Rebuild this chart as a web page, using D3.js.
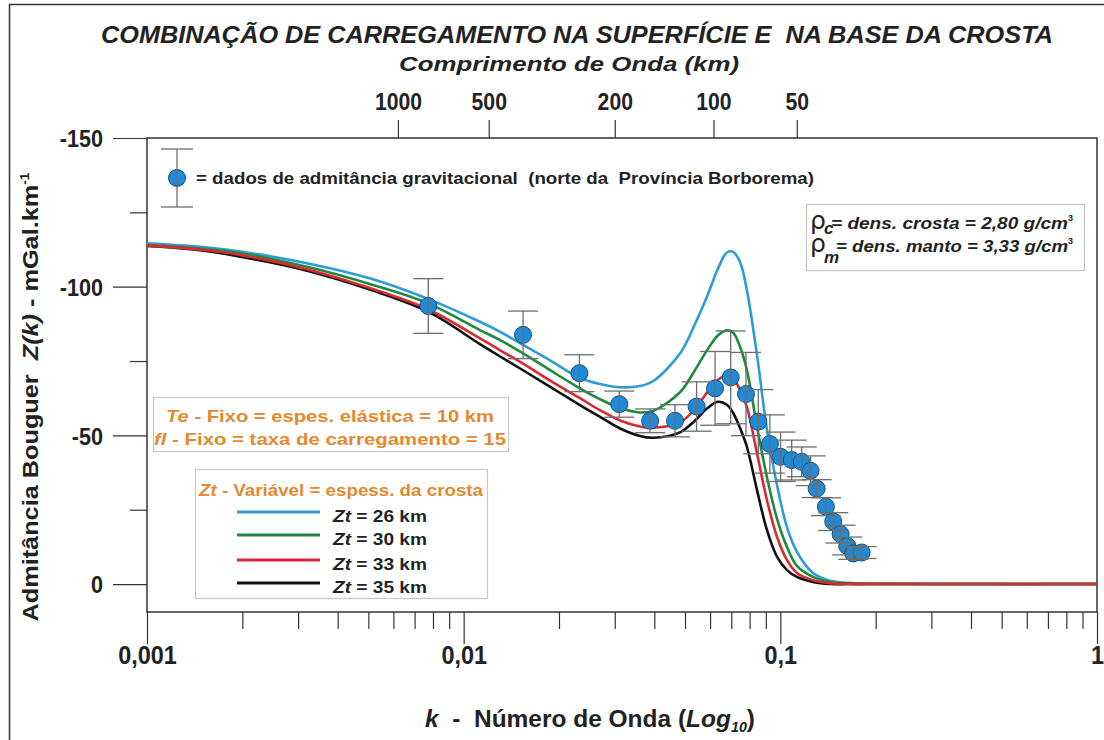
<!DOCTYPE html>
<html><head><meta charset="utf-8">
<script src="https://cdn.jsdelivr.net/npm/d3@7"></script>
<style>
html,body{margin:0;padding:0;background:#fff;}
svg text{font-family:"Liberation Sans",Arial,Helvetica,sans-serif;font-weight:bold;white-space:pre;}
</style></head><body>
<svg id="chart" width="1104" height="740"></svg>
<script>
// Wavenumber samples (k) shared by the model admittance curves
const kModel = [0.001, 0.00147, 0.00197, 0.0032, 0.00517, 0.00772, 0.01126, 0.0130, 0.0154, 0.0187,
  0.0233, 0.0269, 0.0312, 0.0360, 0.0396, 0.0482, 0.0538, 0.0586, 0.0635, 0.0678,
  0.0709, 0.0746, 0.0784, 0.0844, 0.0907, 0.0976, 0.1049, 0.1128, 0.1268, 0.1434,
  0.1623, 0.1918, 0.343, 1.0];
// Model Z(k) for each crustal thickness Zt
const zt26 = [-114.6, -113.4, -111.8, -107.9, -102.5, -95.9, -88.2, -84.9, -80.4, -75.3,
  -69.3, -67.3, -66.2, -66.6, -68.2, -77.5, -87.5, -96.5, -106.0, -111.5,
  -111.7, -108.3, -98.9, -77.0, -52.0, -33.3, -19.2, -10.8, -3.7, -1.1,
  -0.4, -0.15, 0, 0];
const zt30 = [-114.0, -112.8, -111.2, -106.7, -100.6, -94.4, -85.4, -82.1, -77.6, -72.0,
  -65.8, -62.2, -59.2, -57.7, -58.2, -64.5, -72.0, -78.5, -83.6, -85.3,
  -84.6, -79.8, -72.0, -53.0, -36.0, -22.0, -12.5, -6.1, -2.4, -0.7,
  -0.2, 0, 0, 0];
const zt33 = [-113.8, -112.5, -110.7, -105.9, -99.2, -92.4, -82.6, -78.7, -74.1, -68.5,
  -62.5, -58.5, -55.0, -53.0, -52.6, -54.3, -59.0, -64.3, -68.6, -70.3,
  -69.3, -65.3, -59.6, -44.0, -28.3, -15.9, -8.1, -3.7, -1.3, -0.3,
  0, 0, 0, 0];
const zt35 = [-113.7, -112.3, -110.1, -105.4, -98.7, -91.6, -80.7, -76.6, -71.9, -66.4,
  -60.2, -56.3, -52.3, -49.8, -49.2, -51.0, -55.0, -59.0, -61.3, -60.3,
  -57.6, -52.5, -46.2, -31.6, -18.2, -9.2, -4.7, -2.4, -0.7, 0,
  0, 0, 0, 0];

// Observed Bouguer admittance (northern Borborema Province)
const obsK = [0.00773, 0.0154, 0.0232, 0.0310, 0.0388, 0.0465, 0.0544, 0.0622, 0.0697, 0.0779,
  0.0852, 0.0927, 0.1002, 0.1086, 0.1168, 0.1246, 0.1302, 0.1393, 0.1469, 0.1550,
  0.1627, 0.1699, 0.1806];
const obsZ = [-93.5, -83.8, -70.9, -60.5, -54.9, -54.9, -59.7, -65.8, -69.5, -63.9,
  -54.6, -47.1, -42.8, -41.7, -41.1, -38.1, -32.1, -26.0, -21.0, -16.8,
  -12.8, -10.3, -10.6];
const obsErr = [9.2, 8.0, 6.2, 4.4, 4.0, 5.4, 8.3, 12.4, 15.6, 14.0,
  10.8, 9.8, 8.3, 6.7, 5.0, 5.0, 3.0, 3.0, 3.0, 3.0,
  3.0, 2.0, 2.0];

// Axis ticks
const kMajor = [0.001, 0.01, 0.1, 1];
const kMajorLabels = ["0,001", "0,01", "0,1", "1"];
const kMinor = [0.002,0.003,0.004,0.005,0.006,0.007,0.008,0.009,
  0.02,0.03,0.04,0.05,0.06,0.07,0.08,0.09,
  0.2,0.3,0.4,0.5,0.6,0.7,0.8,0.9];
const waveK = [0.0062, 0.0120, 0.0300, 0.0615, 0.1127];
const waveLabels = ["1000", "500", "200", "100", "50"];
const zMajor = [-150, -100, -50, 0];
const zMajorLabels = ["-150", "-100", "-50", "0"];
const zMinor = [-125, -75, -25];

const models = [
  {zt: "26", values: zt26, color: "#2e9bd6"},
  {zt: "30", values: zt30, color: "#1d8a3e"},
  {zt: "33", values: zt33, color: "#d92b2f"},
  {zt: "35", values: zt35, color: "#111111"}
];
const drawOrder = [0, 1, 3, 2];

const svg = d3.select("#chart");
const ORANGE = "#e4892f";
const INK = "#222";

function fitWidth(sel, w) {
  sel.attr("textLength", w).attr("lengthAdjust", "spacingAndGlyphs");
}
function squeeze(sel, f) {
  sel.each(function () {
    const w = this.getComputedTextLength();
    d3.select(this).attr("textLength", w * f).attr("lengthAdjust", "spacingAndGlyphs");
  });
}

// outer figure frame
svg.append("rect").attr("x", 9.5).attr("y", 4.5).attr("width", 1200).attr("height", 800)
  .attr("fill", "none").attr("stroke", "#333").attr("stroke-width", 1.5);

const x = d3.scaleLog().domain([0.001, 1]).range([147, 1097]);
const y = d3.scaleLinear().domain([9.4, -150]).range([612, 138]);

// Titles
const t1 = svg.append("text").attr("x", 101).attr("y", 43)
  .style("font-style", "italic").style("font-size", "24px").attr("fill", INK)
  .text("COMBINAÇÃO DE CARREGAMENTO NA SUPERFÍCIE E  NA BASE DA CROSTA");
fitWidth(t1, 952);
const t2 = svg.append("text").attr("x", 399).attr("y", 71)
  .style("font-style", "italic").style("font-size", "21px").attr("fill", INK)
  .text("Comprimento de Onda (km)");
fitWidth(t2, 340);

// Axes
function styleAxis(g) {
  g.select(".domain").remove();
  g.selectAll(".tick line").attr("stroke", "#333").attr("stroke-width", 1.2);
}
svg.append("g").attr("transform", "translate(0,612)")
  .call(d3.axisBottom(x).tickValues(kMinor).tickSize(17).tickFormat(""))
  .call(styleAxis);
const gxb = svg.append("g").attr("transform", "translate(0,612)")
  .call(d3.axisBottom(x).tickValues(kMajor).tickSize(32)
    .tickFormat((d, i) => kMajorLabels[i]))
  .call(styleAxis);
gxb.selectAll("text").attr("y", 52).attr("dy", null)
  .style("font-size", "26px").style("font-family", "Liberation Sans, Arial, sans-serif").attr("fill", INK)
  .call(squeeze, 0.9);

const gxt = svg.append("g").attr("transform", "translate(0,138)")
  .call(d3.axisTop(x).tickValues(waveK).tickSize(18).tickPadding(10)
    .tickFormat((d, i) => waveLabels[i]))
  .call(styleAxis);
gxt.selectAll("text").style("font-size", "23px").style("font-family", "Liberation Sans, Arial, sans-serif")
  .attr("fill", INK).call(squeeze, 0.92);

svg.append("g").attr("transform", "translate(147,0)")
  .call(d3.axisLeft(y).tickValues(zMinor).tickSize(17).tickFormat(""))
  .call(styleAxis);
const gy = svg.append("g").attr("transform", "translate(147,0)")
  .call(d3.axisLeft(y).tickValues(zMajor).tickSize(34)
    .tickFormat((d, i) => zMajorLabels[i]))
  .call(styleAxis);
gy.selectAll("text").attr("x", -44).attr("dy", "0.36em")
  .style("font-size", "24px").style("font-family", "Liberation Sans, Arial, sans-serif")
  .attr("fill", INK).call(squeeze, 0.9);

// plot frame
svg.append("rect").attr("x", 147).attr("y", 138).attr("width", 950).attr("height", 474)
  .attr("fill", "none").attr("stroke", "#333").attr("stroke-width", 1.5);

// Axis titles
const xt = svg.append("text").attr("x", 590).attr("y", 727).attr("text-anchor", "middle")
  .style("font-size", "24px").attr("fill", INK);
xt.append("tspan").style("font-style", "italic").text("k");
xt.append("tspan").text("  -  Número de Onda (");
xt.append("tspan").style("font-style", "italic").text("Log");
xt.append("tspan").style("font-style", "italic").style("font-size", "14px").attr("dy", 5).text("10");
xt.append("tspan").attr("dy", -5).text(")");
fitWidth(xt, 330);

const yt = svg.append("text").attr("transform", "translate(38,397) rotate(-90)")
  .attr("text-anchor", "middle").style("font-size", "22px").attr("fill", INK);
yt.append("tspan").text("Admitância Bouguer  ");
yt.append("tspan").style("font-style", "italic").text("Z(k)");
yt.append("tspan").text(" - mGal.km");
yt.append("tspan").style("font-size", "12px").attr("dy", -9).text("-1");
fitWidth(yt, 449);

// Model curves
const line = d3.line()
  .x(d => x(d[0])).y(d => y(d[1]))
  .curve(d3.curveCatmullRom.alpha(0.5));
const gCurves = svg.append("g");
drawOrder.forEach(i => {
  const m = models[i];
  gCurves.append("path")
    .datum(kModel.map((k, j) => [k, m.values[j]]))
    .attr("d", line).attr("fill", "none")
    .attr("stroke", m.color).attr("stroke-width", 2.6)
    .attr("stroke-linejoin", "round");
});

// Observed data with error bars
const obs = obsK.map((k, i) => ({k, z: obsZ[i], e: obsErr[i]}));
const ERR = "#6e6e6e";
const CAP = 15;
const gObs = svg.append("g");
gObs.selectAll("circle").data(obs).join("circle")
  .attr("cx", d => x(d.k)).attr("cy", d => y(d.z)).attr("r", 8.5)
  .attr("fill", "#1f8ad6").attr("stroke", "#17507f").attr("stroke-width", 1);
const gErr = svg.append("g").attr("stroke", ERR).attr("stroke-width", 1.3);
obs.forEach(d => {
  const cx = x(d.k), y1 = y(d.z - d.e), y2 = y(d.z + d.e);
  gErr.append("line").attr("x1", cx).attr("x2", cx).attr("y1", y1).attr("y2", y2);
  gErr.append("line").attr("x1", cx - CAP).attr("x2", cx + CAP).attr("y1", y1).attr("y2", y1);
  gErr.append("line").attr("x1", cx - CAP).attr("x2", cx + CAP).attr("y1", y2).attr("y2", y2);
});

// Legend: observed data marker
const lg = svg.append("g");
lg.append("circle").attr("cx", 177).attr("cy", 178).attr("r", 8.5)
  .attr("fill", "#1f8ad6").attr("stroke", "#17507f").attr("stroke-width", 1);
lg.append("line").attr("x1", 177).attr("x2", 177).attr("y1", 149).attr("y2", 207)
  .attr("stroke", ERR).attr("stroke-width", 1.3);
[149, 207].forEach(v => lg.append("line").attr("x1", 161).attr("x2", 193)
  .attr("y1", v).attr("y2", v).attr("stroke", ERR).attr("stroke-width", 1.3));
const lgt = lg.append("text").attr("x", 196).attr("y", 184)
  .style("font-size", "16.5px").attr("fill", INK)
  .text("= dados de admitância gravitacional  (norte da  Província Borborema)");
fitWidth(lgt, 618);

// Density box
svg.append("rect").attr("x", 806.5).attr("y", 204.5).attr("width", 278).attr("height", 66)
  .attr("fill", "#fff").attr("stroke", "#c4c4c4").attr("stroke-width", 1.2);
function densLine(yb, sub, subDy, x0, w, txt) {
  const t = svg.append("text").attr("x", 810).attr("y", yb).attr("fill", INK);
  t.append("tspan").style("font-family", "DejaVu Sans, sans-serif").style("font-weight", "normal")
    .style("font-size", "25px").text("ρ");
  t.append("tspan").style("font-style", "italic").style("font-size", "17px").attr("dy", subDy)
    .attr("dx", -2).text(sub);
  const m = t.append("tspan").attr("x", x0).style("font-style", "italic").style("font-size", "17px")
    .attr("dy", -subDy).text(txt);
  fitWidth(m, w);
  t.append("tspan").style("font-size", "9px").attr("dy", -8).text("3");
  return m;
}
densLine(229, "c", 5, 831, 237, "= dens. crosta = 2,80 g/cm");
densLine(252, "m", 11, 836, 232, "= dens. manto = 3,33 g/cm");

// Fixed parameters box
svg.append("rect").attr("x", 153.5).attr("y", 397.5).attr("width", 355).attr("height", 54)
  .attr("fill", "#fff").attr("stroke", "#c8c8c8").attr("stroke-width", 1.2);
const te1 = svg.append("text").attr("x", 330).attr("y", 422).attr("text-anchor", "middle")
  .style("font-size", "17px").attr("fill", ORANGE);
te1.append("tspan").style("font-style", "italic").text("Te");
te1.append("tspan").text(" - Fixo = espes. elástica = 10 km");
fitWidth(te1, 328);
const te2 = svg.append("text").attr("x", 330).attr("y", 445).attr("text-anchor", "middle")
  .style("font-size", "17px").attr("fill", ORANGE);
te2.append("tspan").style("font-style", "italic").text("fl");
te2.append("tspan").text(" - Fixo = taxa de carregamento = 15");
fitWidth(te2, 352);

// Crustal thickness legend
svg.append("rect").attr("x", 195.5).attr("y", 469.5).attr("width", 292).attr("height", 129)
  .attr("fill", "#fff").attr("stroke", "#c8c8c8").attr("stroke-width", 1.2);
const zt = svg.append("text").attr("x", 341).attr("y", 496).attr("text-anchor", "middle")
  .style("font-size", "16.5px").attr("fill", ORANGE);
zt.append("tspan").style("font-style", "italic").text("Zt");
zt.append("tspan").text(" - Variável = espess. da crosta");
fitWidth(zt, 284);

const legY = [512, 535, 560, 583];
models.forEach((m, i) => {
  svg.append("line").attr("x1", 237).attr("x2", 320).attr("y1", legY[i]).attr("y2", legY[i])
    .attr("stroke", m.color).attr("stroke-width", 3);
  const t = svg.append("text").attr("x", 333).attr("y", legY[i] + 10)
    .style("font-size", "16.5px").attr("fill", INK);
  t.append("tspan").style("font-style", "italic").text("Zt");
  t.append("tspan").text(" = " + m.zt + " km");
  fitWidth(t, 94);
});
</script>
</body></html>
